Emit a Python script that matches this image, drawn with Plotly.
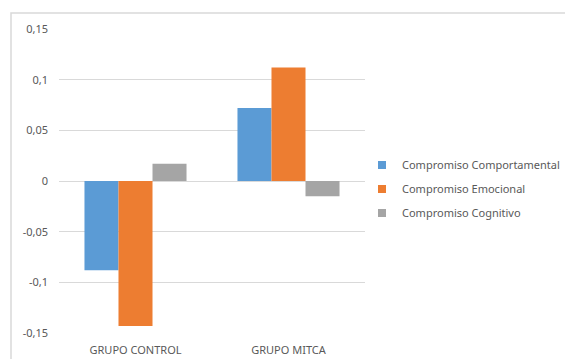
import plotly.graph_objects as go

groups = ["GRUPO CONTROL", "GRUPO MITCA"]
comportamental = [-0.088, 0.072]
emocional = [-0.143, 0.112]
cognitivo = [0.017, -0.015]

series = [
    ("Compromiso Comportamental", comportamental, "#5b9bd5"),
    ("Compromiso Emocional", emocional, "#ed7d31"),
    ("Compromiso Cognitivo", cognitivo, "#a5a5a5"),
]

tick_vals = [0.15, 0.1, 0.05, 0, -0.05, -0.1, -0.15]
tick_text = ["0,15", "0,1", "0,05", "0", "-0,05", "-0,1", "-0,15"]

fig = go.Figure()
for name, vals, color in series:
    fig.add_trace(go.Bar(x=groups, y=vals, name=name, marker_color=color,
                         marker_line_width=0, showlegend=False))

# Legend entries with small square swatches
for name, vals, color in series:
    fig.add_trace(go.Scatter(x=[None], y=[None], mode="markers", name=name,
                             legendgroup=name,
                             marker=dict(symbol="square", size=8, color=color)))

W, H = 565, 359
L, R, T, B = 59, 200, 29, 26
pw = W - L - R
ph = H - T - B

fig.update_layout(
    width=W, height=H,
    margin=dict(l=L, r=R, t=T, b=B, autoexpand=False),
    paper_bgcolor="white", plot_bgcolor="white",
    barmode="group", bargap=0.333, bargroupgap=0,
    font=dict(family="Noto Sans", size=11, color="#595959"),
    showlegend=True,
    legend=dict(x=(362 - L) / pw, y=(333 - 189) / ph, xanchor="left", yanchor="middle",
                font=dict(size=11, color="#595959"), tracegroupgap=5,
                itemwidth=30, bgcolor="rgba(0,0,0,0)"),
    xaxis=dict(showline=False, ticks="", tickfont=dict(size=11),
               ticklabelstandoff=9),
    yaxis=dict(range=[-0.15, 0.15], tickvals=tick_vals, ticktext=tick_text,
               showgrid=True, gridcolor="#d9d9d9", gridwidth=1,
               zeroline=True, zerolinecolor="#d9d9d9", zerolinewidth=1,
               showline=False, ticks="", ticklabelstandoff=10),
    shapes=[dict(type="rect", xref="paper", yref="paper",
                 x0=(11 - L) / pw, x1=(W + 5 - L) / pw,
                 y0=-(B + 5) / ph, y1=1 + (T - 13) / ph,
                 line=dict(color="#d9d9d9", width=1.5), layer="below")],
)

fig.write_html("out.html")
